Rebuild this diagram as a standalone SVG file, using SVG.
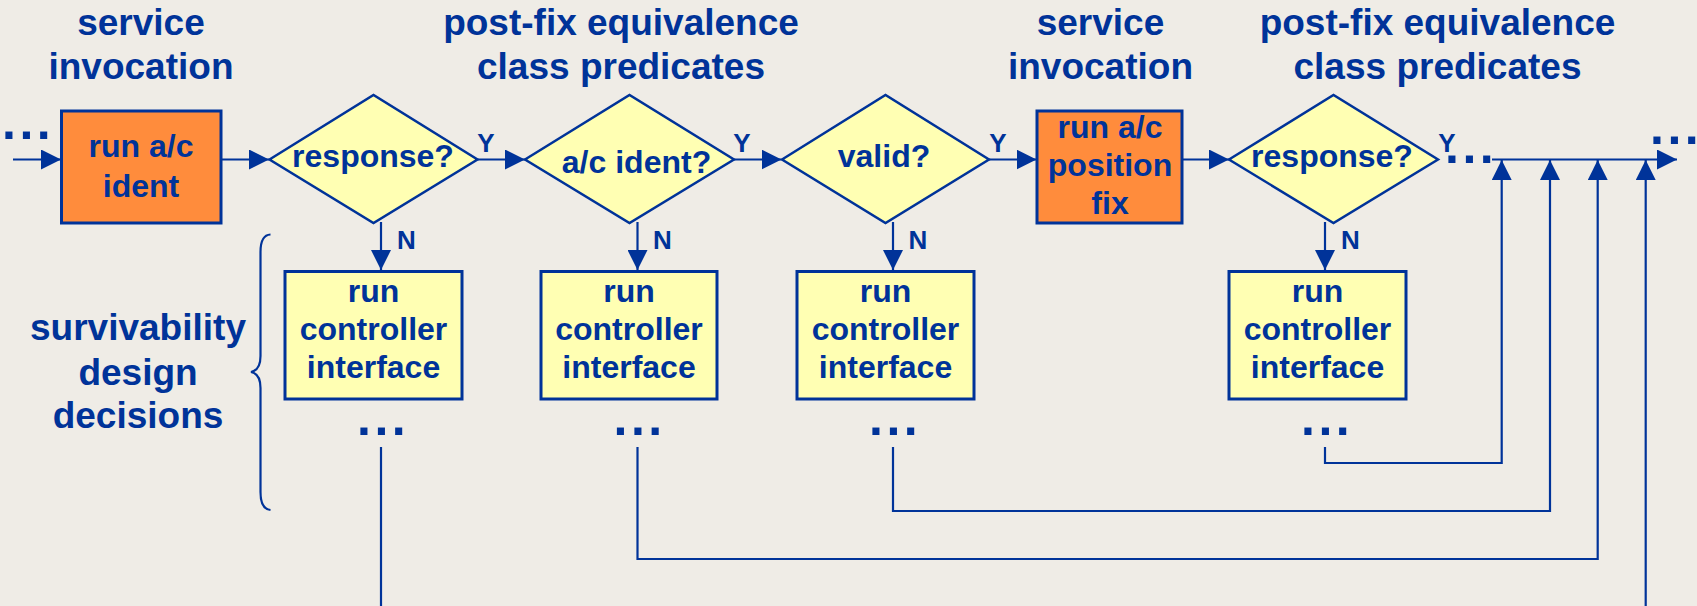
<svg xmlns="http://www.w3.org/2000/svg" width="1697" height="606" viewBox="0 0 1697 606">
  <style>
    text { font-family: "Liberation Sans", Arial, sans-serif; font-weight: bold; fill: #003399; }
    .title { font-size: 37px; text-anchor: middle; }
    .body { font-size: 32px; text-anchor: middle; }
    .yn { font-size: 26px; }
    .ym { text-anchor: middle; }
    .dots { font-size: 50px; letter-spacing: 3.5px; }
    .service { fill: #FF8C3C; stroke: #003399; stroke-width: 3; }
    .ctrl { fill: #FFFFB3; stroke: #003399; stroke-width: 3; }
    .pred { fill: #FFFFB3; stroke: #003399; stroke-width: 2.5; }
    .flow { fill: none; stroke: #003399; stroke-width: 2.2; marker-end: url(#arrow); }
    .line { fill: none; stroke: #003399; stroke-width: 2.2; }
  </style>
  <defs>
    <marker id="arrow" markerUnits="userSpaceOnUse" markerWidth="20" markerHeight="20" refX="20" refY="10" orient="auto">
      <path d="M0,0 L20,10 L0,20 z" fill="#003399"/>
    </marker>
  </defs>

  <rect width="1697" height="606" fill="#EFECE6"/>

  <!-- column headings -->
  <g id="heading-invocation-1">
    <text class="title" x="141" y="35">service</text>
    <text class="title" x="141" y="79">invocation</text>
  </g>
  <g id="heading-predicates-1">
    <text class="title" x="621" y="35">post-fix equivalence</text>
    <text class="title" x="621" y="79">class predicates</text>
  </g>
  <g id="heading-invocation-2">
    <text class="title" x="1100.5" y="35">service</text>
    <text class="title" x="1100.5" y="79">invocation</text>
  </g>
  <g id="heading-predicates-2">
    <text class="title" x="1437.5" y="35">post-fix equivalence</text>
    <text class="title" x="1437.5" y="79">class predicates</text>
  </g>

  <!-- left-hand side label with brace -->
  <g id="survivability-label">
    <text class="title" x="138" y="340">survivability</text>
    <text class="title" x="138" y="385">design</text>
    <text class="title" x="138" y="428">decisions</text>
    <path class="line" d="M270.5,234.5 Q260.5,235 260.5,252 L260.5,356 Q260.5,370 251,372 Q260.5,374 260.5,388 L260.5,492 Q260.5,509 270.5,510"/>
  </g>

  <!-- connectors -->
  <g id="connectors">
    <!-- main flow -->
    <path class="flow" d="M13,159.5 H61"/>
    <path class="flow" d="M221,159.5 H269"/>
    <path class="flow" d="M477.5,159.5 H525"/>
    <path class="flow" d="M734,159.5 H781.5"/>
    <path class="flow" d="M989,159.5 H1036.5"/>
    <path class="flow" d="M1182,159.5 H1229"/>
    <path class="flow" d="M1492,159.5 H1677"/>
    <!-- N branches -->
    <path class="flow" d="M381,222 V270"/>
    <path class="flow" d="M637.5,222 V270"/>
    <path class="flow" d="M893,222 V270"/>
    <path class="flow" d="M1325,222 V270"/>
    <!-- returns into the main flow -->
    <path class="flow" d="M1325,447 V463 H1501.7 V160"/>
    <path class="flow" d="M893,447 V511 H1550 V160"/>
    <path class="flow" d="M637.5,447 V559 H1597.7 V160"/>
    <path class="flow" d="M1645.7,606 V160"/>
    <path class="line" d="M381,447 V606"/>
  </g>

  <!-- continuation marks -->
  <g id="continuations">
    <text class="dots" x="2" y="139">...</text>
    <text class="dots" x="1445" y="163">...</text>
    <text class="dots" x="1650" y="143.5">...</text>
    <text class="dots" x="357" y="435">...</text>
    <text class="dots" x="613.5" y="435">...</text>
    <text class="dots" x="869" y="435">...</text>
    <text class="dots" x="1301" y="435">...</text>
  </g>

  <!-- service invocation boxes -->
  <g id="run-ac-ident">
    <rect class="service" x="61.5" y="111" width="159.5" height="112"/>
    <text class="body" x="141" y="157">run a/c</text>
    <text class="body" x="141" y="197">ident</text>
  </g>
  <g id="run-ac-position-fix">
    <rect class="service" x="1037" y="111" width="145" height="112"/>
    <text class="body" x="1110" y="138">run a/c</text>
    <text class="body" x="1110" y="176">position</text>
    <text class="body" x="1110" y="214">fix</text>
  </g>

  <!-- predicate diamonds -->
  <g id="response-1">
    <polygon class="pred" points="269.5,159.5 373.5,95 477.5,159.5 373.5,223"/>
    <text class="body" x="373" y="167">response?</text>
    <text class="yn ym" x="486" y="152">Y</text>
  </g>
  <g id="ac-ident">
    <polygon class="pred" points="525,159.5 629.5,95 734,159.5 629.5,223"/>
    <text class="body" x="636.5" y="173">a/c ident?</text>
    <text class="yn ym" x="742" y="152">Y</text>
  </g>
  <g id="valid">
    <polygon class="pred" points="782,159.5 885.5,95 989,159.5 885.5,223"/>
    <text class="body" x="884" y="167">valid?</text>
    <text class="yn ym" x="998" y="152">Y</text>
  </g>
  <g id="response-2">
    <polygon class="pred" points="1229,159.5 1333.5,95 1438,159.5 1333.5,223"/>
    <text class="body" x="1332" y="167">response?</text>
    <text class="yn ym" x="1447" y="152">Y</text>
  </g>

  <!-- controller interface boxes -->
  <g id="controller-1">
    <rect class="ctrl" x="285" y="271.5" width="177" height="127.5"/>
    <text class="body" x="373.5" y="301.5">run</text>
    <text class="body" x="373.5" y="340">controller</text>
    <text class="body" x="373.5" y="378">interface</text>
    <text class="yn" x="397" y="249">N</text>
  </g>
  <g id="controller-2">
    <rect class="ctrl" x="541" y="271.5" width="176" height="127.5"/>
    <text class="body" x="629" y="301.5">run</text>
    <text class="body" x="629" y="340">controller</text>
    <text class="body" x="629" y="378">interface</text>
    <text class="yn" x="653" y="249">N</text>
  </g>
  <g id="controller-3">
    <rect class="ctrl" x="797" y="271.5" width="177" height="127.5"/>
    <text class="body" x="885.5" y="301.5">run</text>
    <text class="body" x="885.5" y="340">controller</text>
    <text class="body" x="885.5" y="378">interface</text>
    <text class="yn" x="908.5" y="249">N</text>
  </g>
  <g id="controller-4">
    <rect class="ctrl" x="1229" y="271.5" width="177" height="127.5"/>
    <text class="body" x="1317.5" y="301.5">run</text>
    <text class="body" x="1317.5" y="340">controller</text>
    <text class="body" x="1317.5" y="378">interface</text>
    <text class="yn" x="1341" y="249">N</text>
  </g>
</svg>
